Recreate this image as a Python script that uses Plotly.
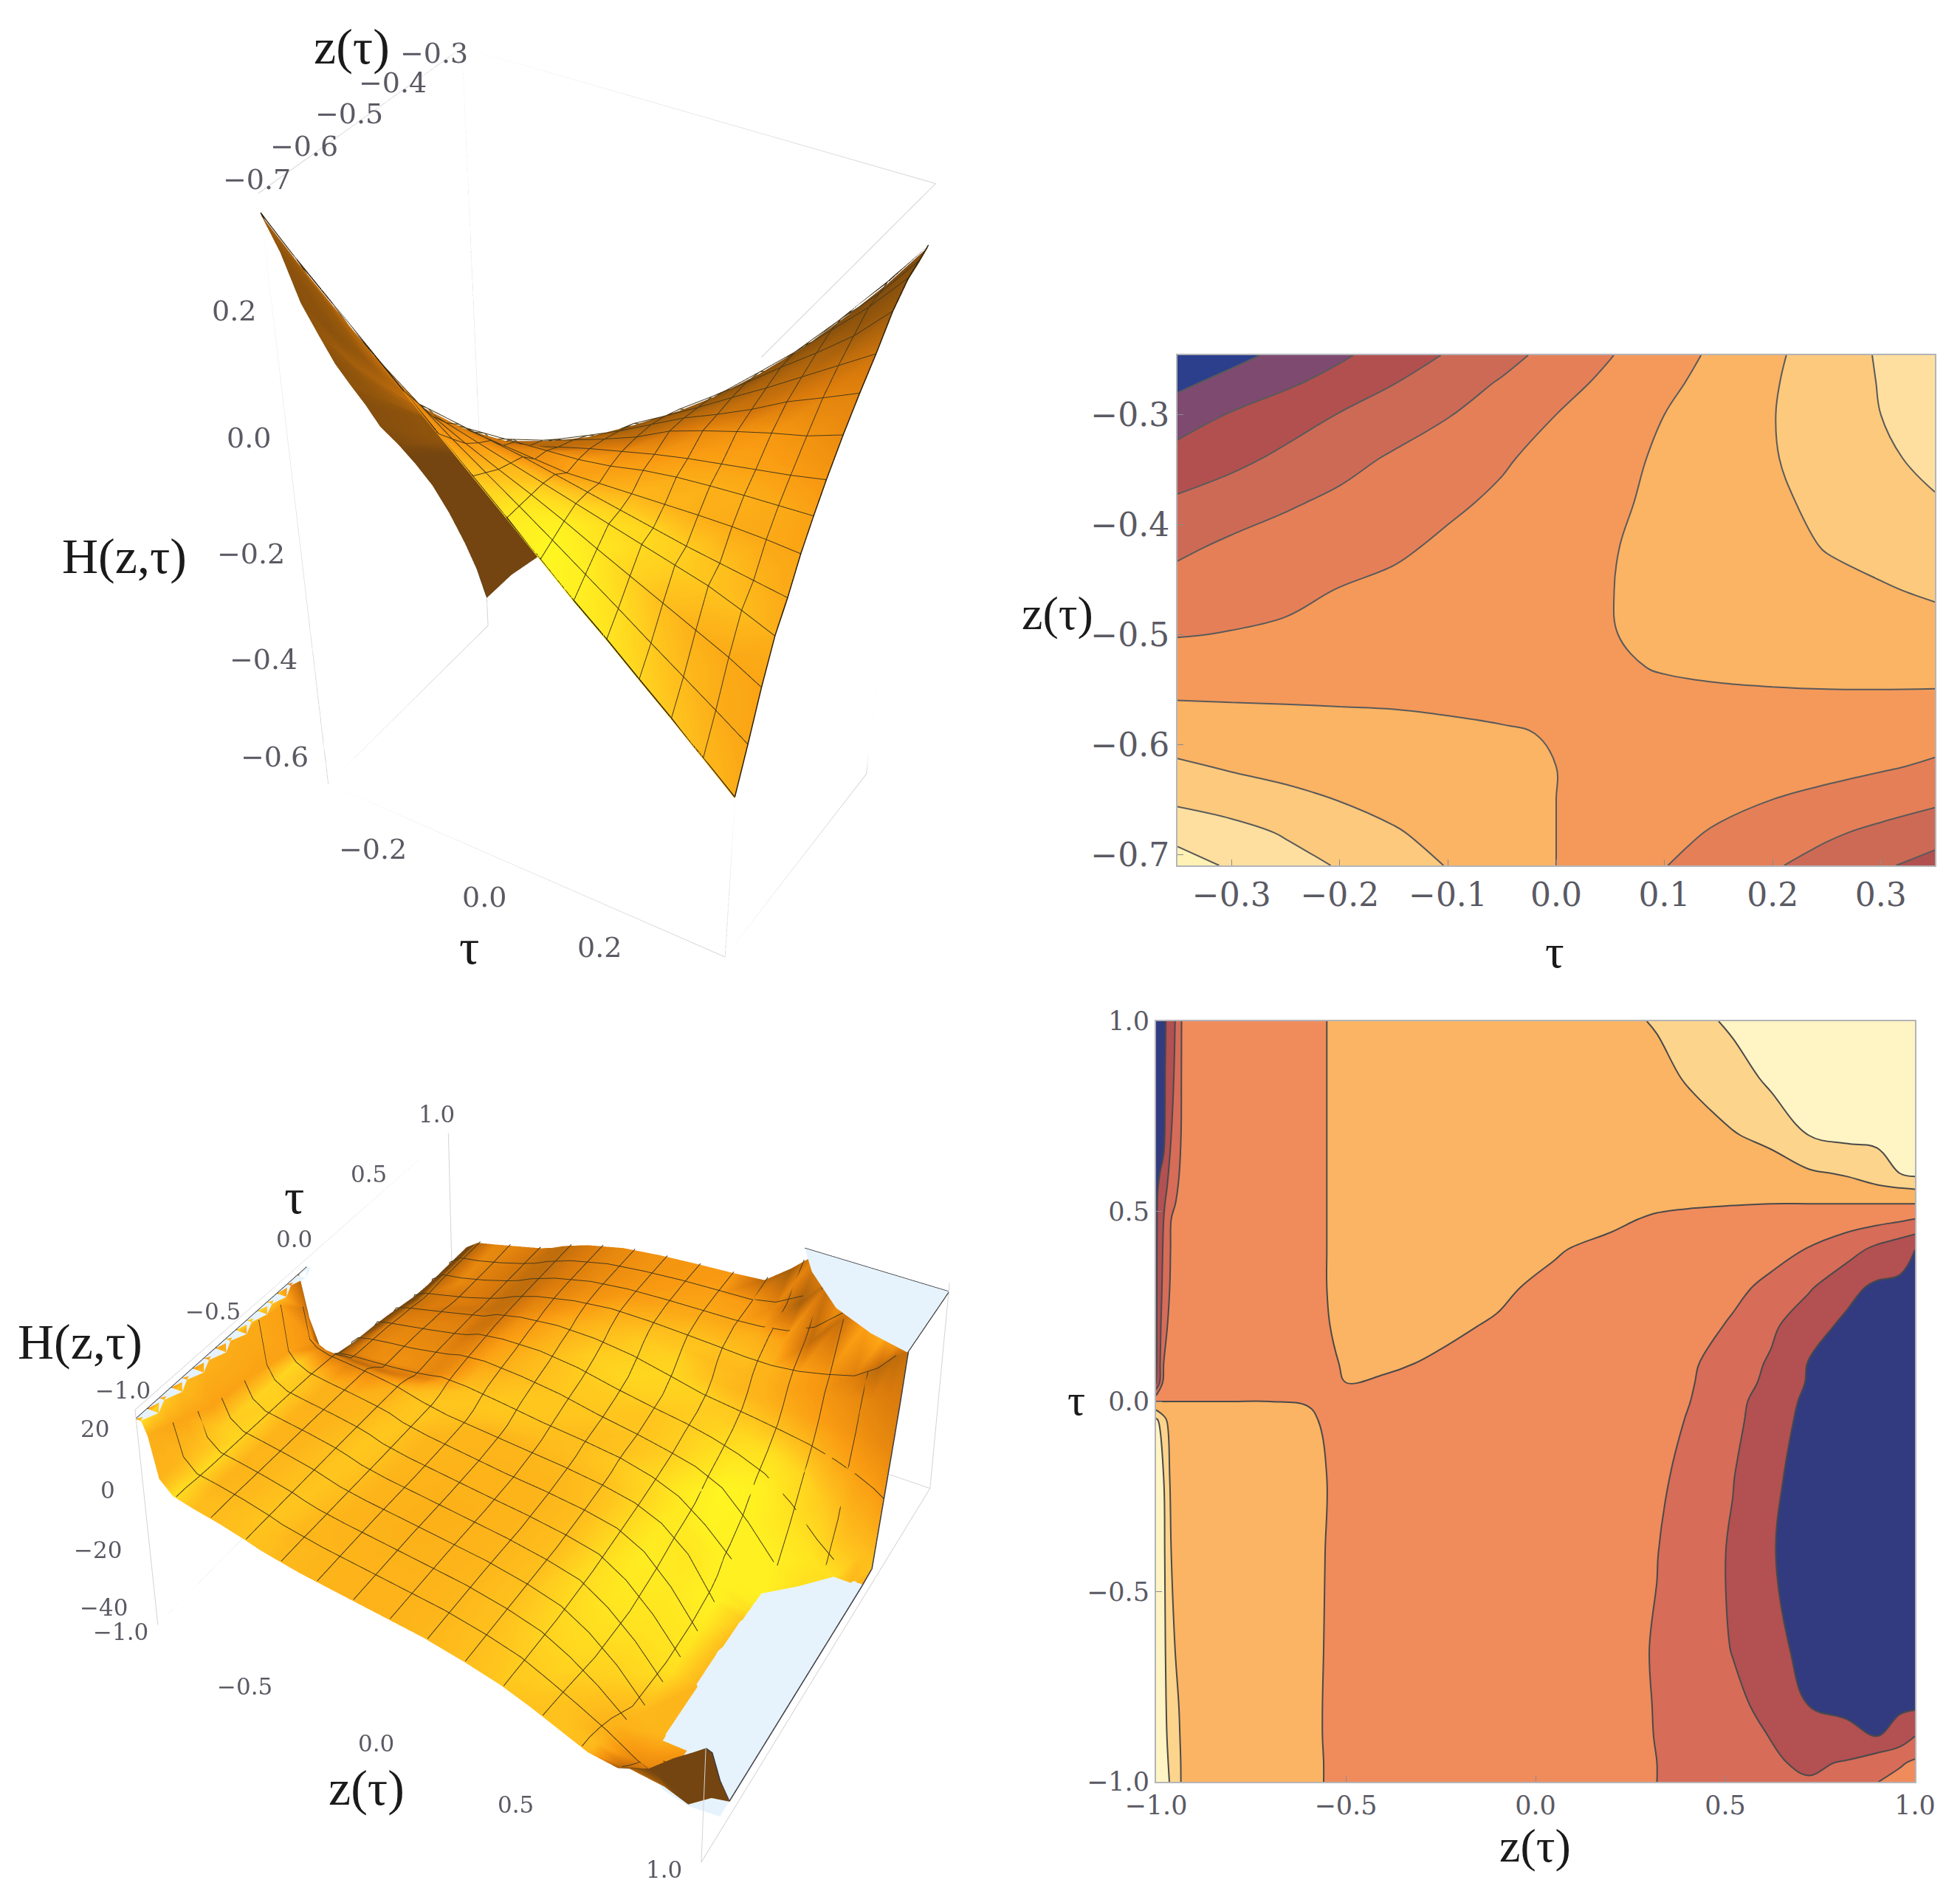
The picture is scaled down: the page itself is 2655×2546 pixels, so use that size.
import numpy as np
import plotly.graph_objects as go

# ---- top row data, tau against z(tau)
tau_a = [-0.35, -0.3, -0.25, -0.2, -0.15, -0.1, -0.05, 0, 0.05, 0.1, 0.15, 0.2, 0.25, 0.3, 0.35]
z_a = [-0.71, -0.68, -0.65, -0.62, -0.59, -0.56, -0.53, -0.5, -0.46, -0.42, -0.38, -0.34, -0.3, -0.27, -0.246]
h_a = [
    [0.34, 0.288, 0.24, 0.192, 0.144, 0.096, 0.048, 0, -0.048, -0.097, -0.142, -0.19, -0.237, -0.286, -0.335],
    [0.27, 0.235, 0.19, 0.147, 0.108, 0.07, 0.035, 0, -0.036, -0.073, -0.11, -0.148, -0.185, -0.222, -0.26],
    [0.18, 0.15, 0.125, 0.097, 0.07, 0.045, 0.022, 0, -0.024, -0.05, -0.075, -0.1, -0.125, -0.15, -0.18],
    [0.115, 0.09, 0.07, 0.056, 0.042, 0.028, 0.014, 0, -0.014, -0.028, -0.042, -0.056, -0.07, -0.09, -0.112],
    [0.052, 0.046, 0.038, 0.03, 0.022, 0.014, 0.006, -0.004, -0.014, -0.024, -0.034, -0.044, -0.052, -0.06, -0.068],
    [0, -0.003, -0.005, -0.007, -0.008, -0.012, -0.016, -0.02, -0.018, -0.016, -0.014, -0.012, -0.011, -0.012, -0.015],
    [-0.05, -0.044, -0.038, -0.032, -0.028, -0.024, -0.02, -0.016, -0.008, 0.004, 0.012, 0.017, 0.021, 0.024, 0.027],
    [-0.105, -0.096, -0.088, -0.078, -0.064, -0.05, -0.032, -0.016, -0.002, 0.012, 0.024, 0.034, 0.044, 0.054, 0.066],
    [-0.16, -0.138, -0.118, -0.097, -0.08, -0.063, -0.044, -0.024, -0.002, 0.026, 0.045, 0.062, 0.078, 0.092, 0.112],
    [-0.22, -0.182, -0.157, -0.137, -0.115, -0.085, -0.06, -0.034, -0.005, 0.024, 0.048, 0.074, 0.104, 0.128, 0.153],
    [-0.285, -0.25, -0.212, -0.18, -0.15, -0.115, -0.085, -0.045, -0.014, 0.018, 0.052, 0.085, 0.12, 0.155, 0.19],
    [-0.363, -0.325, -0.28, -0.232, -0.188, -0.148, -0.11, -0.07, -0.026, 0.013, 0.053, 0.095, 0.135, 0.178, 0.232],
    [-0.451, -0.393, -0.343, -0.296, -0.25, -0.205, -0.15, -0.1, -0.05, 0, 0.048, 0.097, 0.148, 0.2, 0.26],
    [-0.525, -0.47, -0.42, -0.365, -0.305, -0.245, -0.193, -0.135, -0.08, -0.022, 0.034, 0.092, 0.15, 0.205, 0.27],
    [-0.6, -0.53, -0.473, -0.416, -0.353, -0.292, -0.23, -0.168, -0.104, -0.042, 0.02, 0.084, 0.147, 0.21, 0.28],
]

# ---- bottom row data, clipped at the plot range like the original
z_b = [-1, -0.98, -0.96, -0.93, -0.88, -0.8, -0.7, -0.6, -0.55, -0.5, -0.4, -0.25, -0.1, 0.05, 0.2, 0.32, 0.42, 0.52, 0.62, 0.72, 0.82, 0.9, 0.96, 1]
tau_b = [-1, -0.95, -0.88, -0.8, -0.65, -0.4, -0.2, -0.05, 0, 0.05, 0.1, 0.2, 0.3, 0.4, 0.48, 0.52, 0.56, 0.6, 0.7, 0.85, 1]
h_b = [
    [23, 23, 19, 6, 2, 0.5, -1, -3, -4.2, -5, -6.5, -8, -9.5, -11, -13.5, -16, -19, -22.5, -26, -27, -23, -16.3, -12, -9],
    [23, 23, 18, 6, 2, 0.5, -1, -3, -4.2, -5, -6.5, -8, -9.5, -11, -13.5, -16, -19.5, -23, -26.5, -30, -27, -21, -17.5, -14],
    [23, 23, 16, 5.5, 1.5, 0.5, -1, -3, -4.3, -5, -6.5, -8, -9.5, -11, -13.5, -16.2, -20, -24, -28.3, -33, -37.5, -40, -35, -28],
    [23, 23, 14, 5, 1.2, 0.3, -1.2, -3, -4.3, -5.2, -6.5, -8, -9.5, -11, -13.5, -16.3, -20.5, -25.5, -31, -40, -42, -42, -42, -42],
    [23, 23, 10, 4, 1, 0, -1.4, -3, -4.2, -5.3, -6.6, -8, -9.5, -11, -13.5, -16.5, -21.5, -28.5, -38, -42, -42, -42, -42, -42],
    [23, 22, 8, 3, 0.5, -0.5, -1.6, -3, -4.1, -5.5, -7, -8.5, -10, -11.5, -13.5, -15.8, -21.5, -29.5, -39.7, -42, -42, -42, -42, -42],
    [23, 20, 5, 2, 0, -1, -2, -3.2, -4, -5.5, -7, -8.5, -10, -11, -12.5, -14.5, -19, -27.5, -39, -42, -42, -42, -42, -42],
    [23, 12, 2, 0, -1, -1.5, -2.3, -3.4, -4.5, -5.5, -7, -8, -9, -10, -11.5, -13.5, -17, -24, -37, -42, -42, -42, -42, -42],
    [-4, -4, -4, -4, -4, -4, -4, -4.2, -4.6, -5, -6, -7.5, -8.5, -9.5, -11, -13, -16.4, -23.5, -35, -42, -42, -42, -42, -42],
    [-42, -12, -9, -8, -7.5, -7, -6.5, -5.5, -4.8, -4, -4.5, -6, -7.5, -8.5, -10, -12.5, -16, -22.5, -31, -41, -42, -42, -42, -42],
    [-42, -16, -10.5, -9, -8, -7.5, -6.5, -5.5, -4.7, -3.6, -3.3, -4.6, -6.5, -8, -9.5, -12, -15.3, -21.5, -29.5, -40.5, -42, -42, -42, -42],
    [-42, -20, -12, -9.5, -8.5, -7.5, -6.5, -5, -4.2, -3, -2.2, -3, -4.5, -7, -9, -11, -13, -17, -25.5, -36, -42, -42, -42, -42],
    [-42, -24, -14, -10, -9, -8, -6.5, -5, -4, -2.5, -1.5, -1.5, -3, -5.5, -7.5, -9, -11, -14, -18, -26.5, -37, -42, -42, -42],
    [-42, -26, -15, -11, -10, -8.5, -7, -5, -4, -2, -0.5, 0.5, -0.5, -3.4, -6, -7.5, -9, -10.5, -13, -16.5, -23, -31, -36, -40],
    [-42, -28, -16, -12, -10.5, -9, -7, -5, -4, -2, 0, 1.5, 1.5, 0.3, -2.5, -5, -6, -7, -8, -9, -10.5, -12, -14, -16],
    [-42, -30, -18, -12.5, -11, -9.5, -7.5, -5.5, -4, -2, 0.3, 2.5, 3, 2.5, 0, -2.5, -3.2, -3.6, -4, -4, -4, -4, -4, -4],
    [-42, -34, -20, -13, -11.5, -9.5, -8, -5.5, -4, -2, 0.5, 3, 4, 4, 2.5, 1.5, 1, 0.5, 1, 2.5, 4, 6, 7.5, 8.5],
    [-42, -38, -22, -13.5, -11.5, -10, -8, -5.5, -4, -2, 0.8, 3.5, 5, 5, 4.5, 4, 3.5, 3.5, 4.5, 6.5, 9, 14, 20, 23],
    [-42, -42, -28, -14, -11, -10, -8, -5.5, -4, -2, 1, 4, 5.5, 6, 6.3, 6.5, 7, 7.5, 10, 20, 23, 23, 23, 23],
    [-42, -42, -32, -14, -11, -10, -8, -5.5, -4, -2, 1, 4, 5.5, 6.5, 7, 7.3, 8.4, 13, 23, 23, 23, 23, 23, 23],
    [-42, -42, -35, -14, -11, -9.5, -7.5, -5.5, -4, -2, 1, 4, 5.5, 6.5, 7.3, 8.2, 15, 23, 23, 23, 23, 23, 23, 23],
]

# flat clipped patches of the lower surface (pale parts)
clip_low_z = [0.83, 1, 0.888, 0.78, 0.685, 0.63, 0.623, 0.64, 0.7, 0.81, 0.903, 1]
clip_low_tau = [-0.25, 0.4, 0.34, 0.22, 0.03, -0.24, -0.417, -0.64, -0.788, -0.862, -0.88, -0.87]
clip_high_z = [1, 0.467, 0.545, 0.7, 0.857, 1]
clip_high_tau = [1, 1, 0.874, 0.71, 0.63, 0.589]
tooth_tau = [0, -0.06, -0.125, -0.19, -0.25, -0.31, -0.375, -0.44, -0.5, -0.56, -0.625, -0.69, -0.75, -0.81, -0.875, -0.94, -1]
tooth_z = [-0.985, -0.965, -0.985, -0.96, -0.98, -0.96, -0.98, -0.955, -0.98, -0.955, -0.98, -0.955, -0.98, -0.955, -0.98, -0.955, -0.98]
mesh_steps_b = [-0.867, -0.733, -0.6, -0.467, -0.333, -0.2, -0.067, 0.067, 0.2, 0.333, 0.467, 0.6, 0.733, 0.867]

# tick labels
tau_ticks_a = [-0.3, -0.2, -0.1, 0, 0.1, 0.2, 0.3]
tau_labels_a = ['−0.3', '−0.2', '−0.1', '0.0', '0.1', '0.2', '0.3']
z_ticks_a = [-0.7, -0.6, -0.5, -0.4, -0.3]
z_labels_a = ['−0.7', '−0.6', '−0.5', '−0.4', '−0.3']
h_ticks_a = [-0.6, -0.4, -0.2, 0, 0.2]
h_labels_a = ['−0.6', '−0.4', '−0.2', '0.0', '0.2']
unit_ticks = [-1, -0.5, 0, 0.5, 1]
unit_labels = ['−1.0', '−0.5', '0.0', '0.5', '1.0']
h_ticks_b = [-40, -20, 0, 20]
h_labels_b = ['−40', '−20', '0', '20']

# contour bands from lowest to highest
bands_a = ['#2c3f8c', '#7f4a70', '#b2504f', '#cd6a56', '#e57f58', '#f4995a', '#fbb364', '#fdc97c', '#fedf9f', '#fff2b4']
bands_b = ['#333b80', '#b35052', '#d76c58', '#f08b5c', '#fbb463', '#fdd48c', '#fff4c4']

FONT = 'DejaVu Serif'
TITLE_FONT = 'Liberation Serif'
GREY = '#5a5a64'
W, H = 2655, 2546
PAGE = 8  # the page body offsets the plot by this many px


def px_x(v):
    return (v - PAGE) / W


def px_y(v):
    return 1 - (v - PAGE) / H


def stepped(colors):
    n = len(colors)
    scale = []
    for i, c in enumerate(colors):
        scale.append([i / n, c])
        scale.append([(i + 1) / n, c])
    return scale


def shade(x, y, h, aspect, light):
    # lit brightness of the golden surface, from slopes in box units
    x, y, h = np.array(x, float), np.array(y, float), np.array(h, float)
    sx = aspect[0] / (x.max() - x.min())
    sy = aspect[1] / (y.max() - y.min())
    sh = aspect[2] / (h.max() - h.min())
    dy, dx = np.gradient(h * sh, y * sy, x * sx)
    n = np.dstack([-dx, -dy, np.ones_like(dx)])
    n = n / np.linalg.norm(n, axis=2, keepdims=True)
    l = np.array(light, float)
    # steep walls get less light than plain lambert
    return n @ (l / np.linalg.norm(l)) - 0.3 * (1 - n[:, :, 2]) ** 2


def camera(direction, dist, ppu, dy):
    # eye and look-at that put the box centre dy px above the scene centre
    d = np.array(direction, float)
    d = d / np.linalg.norm(d)
    r = np.cross(-d, [0, 0, 1])
    r = r / np.linalg.norm(r)
    u = np.cross(r, -d)
    c = -(dy / ppu) * u
    e = c + d * dist
    return dict(eye=dict(x=e[0], y=e[1], z=e[2]), center=dict(x=c[0], y=c[1], z=c[2]), up=dict(x=0, y=0, z=1))


def grid_mesh(x, y, h, scene, intensity):
    # triangles over the grid, Surface would upsample an uneven grid far too much
    nx, ny = len(x), len(y)
    xx, yy = np.meshgrid(x, y)
    idx = np.arange(nx * ny).reshape(ny, nx)
    a, b, c, d = idx[:-1, :-1].ravel(), idx[:-1, 1:].ravel(), idx[1:, 1:].ravel(), idx[1:, :-1].ravel()
    return go.Mesh3d(x=xx.ravel(), y=yy.ravel(), z=np.array(h, float).ravel(),
                     i=np.r_[a, a], j=np.r_[b, c], k=np.r_[c, d], intensity=intensity.ravel(),
                     colorscale=gold, cmin=-0.3, cmax=1, showscale=False, lighting=flat, scene=scene)


def lines(segments, color, width, scene):
    xs, ys, zs = [], [], []
    for sx, sy, sz in segments:
        xs += list(sx) + [None]
        ys += list(sy) + [None]
        zs += list(sz) + [None]
    return go.Scatter3d(x=xs, y=ys, z=zs, mode='lines', line=dict(color=color, width=width), scene=scene, showlegend=False)


def box_edges(xr, yr, zr):
    segs = []
    for a in xr:
        for b in yr:
            segs.append(([a, a], [b, b], zr))
    for a in xr:
        for b in zr:
            segs.append(([a, a], yr, [b, b]))
    for a in yr:
        for b in zr:
            segs.append((xr, [a, a], [b, b]))
    return segs


gold = [[0, '#744510'], [0.2, '#93560c'], [0.45, '#d97a0c'], [0.62, '#f99a12'], [0.8, '#ffc41e'], [1, '#ffff22']]
flat = dict(ambient=1, diffuse=0, specular=0, roughness=1, fresnel=0)
mesh_line = '#4a3a18'
pale = '#e6f3fc'
edge = '#3a3a40'
low_level, high_level = -40.5, 23.2
range_tau_a, range_z_a, range_h_a = [-0.35, 0.35], [-0.71, -0.246], [-0.66, 0.37]
range_h_b = [-46, 26]

fig = go.Figure()

# upper surface
aspect_a = (1, 0.645, 1.41)
h_a_arr = np.array(h_a)
fig.add_trace(grid_mesh(tau_a, z_a, h_a, 'scene', shade(tau_a, z_a, h_a, aspect_a, (0.7, -0.35, 0.6))))
seg_a = [(tau_a, [zv] * 15, h_a_arr[i] + 0.003) for i, zv in enumerate(z_a)]
seg_a += [([tv] * 15, z_a, h_a_arr[:, i] + 0.003) for i, tv in enumerate(tau_a)]
fig.add_trace(lines(seg_a, mesh_line, 2, 'scene'))
fig.add_trace(lines([seg_a[0], seg_a[14], seg_a[15], seg_a[29]], '#2a1c08', 3, 'scene'))
box_a = box_edges(range_tau_a, range_z_a, range_h_a)
box_a[2] = ([range_tau_a[1]] * 2, [range_z_a[0]] * 2, [range_h_a[0], h_a[0][-1]])  # the near edge stops at the surface
fig.add_trace(lines(box_a, '#d4d4d8', 2, 'scene'))

# lower surface
aspect_b = (1.03, 0.97, 0.46)
h_b_arr = np.array(h_b)
h_b_shown = np.clip(h_b_arr, low_level - 0.1, None)
fig.add_trace(grid_mesh(z_b, tau_b, h_b_shown, 'scene2', shade(z_b, tau_b, h_b, aspect_b, (0.65, -0.4, 0.5))))
seg_b = []
for m in mesh_steps_b:
    zline = [np.interp(m, z_b, row) for row in h_b_arr]
    tline = [np.interp(m, tau_b, col) for col in h_b_arr.T]
    seg_b.append(([m] * len(tau_b), tau_b, [v + 0.5 if -40 < v < 22 else None for v in zline]))
    seg_b.append((z_b, [m] * len(z_b), [v + 0.5 if -40 < v < 22 else None for v in tline]))
fig.add_trace(lines(seg_b, mesh_line, 2, 'scene2'))
for xs, ys, level in [(clip_low_z, clip_low_tau, low_level), (clip_high_z, clip_high_tau, high_level)]:
    n = len(xs)
    fig.add_trace(go.Mesh3d(x=xs, y=ys, z=[level] * n, i=[0] * (n - 1), j=list(range(1, n - 1)) + [n - 1],
                            k=list(range(2, n)) + [1], color=pale, lighting=flat, scene='scene2', showlegend=False))
# serrated pale strip along the z = -1 wall
nt = len(tooth_tau)
fig.add_trace(go.Mesh3d(x=[-1] * nt + tooth_z, y=tooth_tau + tooth_tau, z=[high_level] * (2 * nt),
                        i=list(range(nt - 1)) * 2, j=list(range(1, nt)) + list(range(nt + 1, 2 * nt)),
                        k=list(range(nt, 2 * nt - 1)) * 2, color=pale, lighting=flat, scene='scene2', showlegend=False))
fig.add_trace(lines([([1] * 21, tau_b, np.clip(h_b_arr[:, -1], low_level, high_level)),
                     ([-1, -1], [-1, 0], [high_level, high_level]),
                     ([clip_high_z[1], 1], [1, 1], [high_level, high_level])], edge, 3, 'scene2'))
# the original shows no box edge in front of the surface
box_b = box_edges([-1, 1], [-1, 1], range_h_b)
box_b[2] = ([1, 1], [-1, -1], [range_h_b[0], h_b[0][-1]])
del box_b[11]  # z = 1 top edge
del box_b[9]  # tau = -1 top edge
fig.add_trace(lines(box_b, '#d4d4d8', 2, 'scene2'))


def ax3(rng):
    return dict(visible=False, range=rng, showspikes=False)


def note(x, y, z, text, size, dx=0, dy=0, anchor='center'):
    return dict(x=x, y=y, z=z, text=text, showarrow=False, xshift=dx, yshift=dy, xanchor=anchor,
                font=dict(family=FONT, size=size, color=GREY))


notes_a = [note(range_tau_a[0], v, range_h_a[1], t, 38, -8, 14) for v, t in zip(z_ticks_a, z_labels_a)]
notes_a += [note(range_tau_a[0], range_z_a[0], v, t, 38, -20, 0, 'right') for v, t in zip(h_ticks_a, h_labels_a)]
notes_a += [note(v, range_z_a[0], range_h_a[0], t, 38, -48, -40) for v, t in zip(tau_ticks_a[1::2], tau_labels_a[1::2])]
notes_b = [note(-1, v, range_h_b[1], t, 31, -16, 26) for v, t in zip(unit_ticks, unit_labels)]
notes_b += [note(-1, -1, v, t, 31, -36, 0, 'right') for v, t in zip(h_ticks_b, h_labels_b)]
notes_b += [note(v, -1, range_h_b[0], t, 31, -50, -10) for v, t in zip(unit_ticks, unit_labels)]

# upper-right filled contours
fig.add_trace(go.Contour(
    x=tau_a, y=z_a, z=h_a, xaxis='x', yaxis='y', showscale=False, colorscale=stepped(bands_a), zmin=-0.6, zmax=0.4,
    contours=dict(start=-0.5, end=0.3, size=0.1, coloring='fill'), line=dict(color='#5a5a5a', width=2, smoothing=1.1)))
# lower-right filled contours
fig.add_trace(go.Contour(
    x=z_b, y=tau_b, z=h_b, xaxis='x2', yaxis='y2', showscale=False, colorscale=stepped(bands_b), zmin=-52, zmax=32,
    contours=dict(start=-40, end=20, size=12, coloring='fill'), line=dict(color='#4a4a4a', width=2, smoothing=1.1)))


def ax2(domain, rng, vals, labels, size, anchor):
    return dict(domain=domain, range=rng, tickmode='array', tickvals=vals, ticktext=labels, anchor=anchor,
                showgrid=False, zeroline=False, showline=True, mirror=True, linecolor='#b4b4b8', linewidth=2,
                ticks='inside', ticklen=8, tickcolor='#8a8a90', tickfont=dict(family=FONT, color=GREY, size=size))


fig.update_layout(
    width=W, height=H, margin=dict(l=0, r=0, t=0, b=0, autoexpand=False), paper_bgcolor='white', plot_bgcolor='white', showlegend=False,
    scene=dict(domain=dict(x=[0, 1604 / W], y=[0, 1]), aspectmode='manual', aspectratio=dict(x=aspect_a[0], y=aspect_a[1], z=aspect_a[2]),
               camera=camera((0.353, -0.583, 0.731), 4.5, 683, 580),
               xaxis=ax3(range_tau_a), yaxis=ax3(range_z_a), zaxis=ax3(range_h_a), annotations=notes_a),
    scene2=dict(domain=dict(x=[0, 1498 / W], y=[0, 1]), aspectmode='manual', aspectratio=dict(x=aspect_b[0], y=aspect_b[1], z=aspect_b[2]),
                camera=camera((0.432, -0.78, 0.454), 3.93, 782, -685),
                xaxis=ax3([-1, 1]), yaxis=ax3([-1, 1]), zaxis=ax3(range_h_b), annotations=notes_b),
    xaxis=ax2([px_x(1595), px_x(2621)], [-0.35, 0.35], tau_ticks_a, tau_labels_a, 44, 'y'),
    yaxis=ax2([px_y(1172), px_y(481)], [-0.71, -0.246], z_ticks_a, z_labels_a, 44, 'x'),
    xaxis2=ax2([px_x(1566), px_x(2594)], [-1, 1], unit_ticks, unit_labels, 35, 'y2'),
    yaxis2=ax2([px_y(2413), px_y(1383)], [-1, 1], unit_ticks, unit_labels, 35, 'x2'),
)

titles = [('z(τ)', 476, 63, 68), ('H(z,τ)', 168, 753, 68), ('τ', 635, 1282, 68),
          ('τ', 2106, 1288, 64), ('z(τ)', 1432, 830, 64),
          ('τ', 398, 1620, 68), ('H(z,τ)', 108, 1817, 68), ('z(τ)', 496, 2421, 68),
          ('τ', 1458, 1896, 60), ('z(τ)', 2079, 2499, 64)]
for text, px, py, size in titles:
    fig.add_annotation(text=text, x=px_x(px), y=px_y(py), xref='paper', yref='paper', xanchor='center', yanchor='middle',
                       showarrow=False, font=dict(family=TITLE_FONT, size=size, color='#1a1a1a'))

fig.write_html("out.html")
